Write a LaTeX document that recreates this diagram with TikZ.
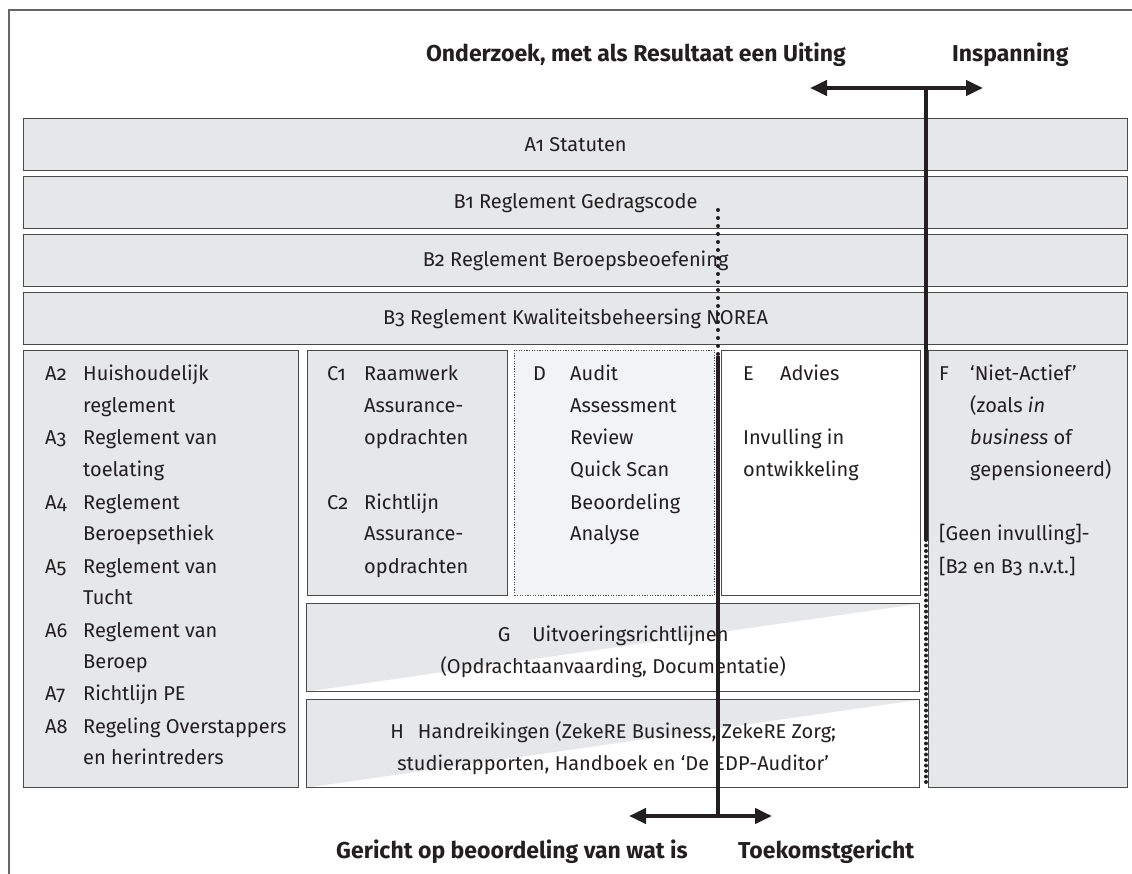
\documentclass[tikz,border=0pt]{standalone}
\usepackage{fontspec}
\setmainfont{Fira Sans}[Numbers=OldStyle]
\usepackage{array}
\usetikzlibrary{arrows.meta}
\definecolor{boxgray}{HTML}{E6E7E8}
\definecolor{palegray}{HTML}{F2F3F4}
\definecolor{edge}{HTML}{4A4A4A}
\definecolor{ink}{HTML}{231F20}
\newcommand{\boxfont}{\fontsize{20}{32}\selectfont}
\newcommand{\headfont}{\fontsize{23}{27}\selectfont\bfseries}
\newcommand{\fullrow}[1]{\multicolumn{2}{@{}l@{}}{#1}}

\begin{document}
\begin{tikzpicture}[x=1pt,y=-1pt,>={Triangle[length=17pt,width=15pt]},
    band/.style={draw=edge,line width=1.3pt,fill=boxgray,anchor=north west,inner sep=0pt,
      minimum width=1104pt,minimum height=52pt,font=\boxfont,text=ink},
    cell/.style={draw=edge,line width=1.3pt,fill=boxgray,anchor=north west,inner sep=0pt},
    halfcell/.style={cell,fill=white,path picture={\fill[boxgray] (path picture bounding box.north west)
      -- (path picture bounding box.north east) -- (path picture bounding box.south west) -- cycle;}},
    entry/.style={anchor=base west,inner sep=0pt,font=\boxfont,text=ink},
    head/.style={inner sep=0pt,font=\headfont,text=ink},
    thick line/.style={draw=ink,line width=4pt},
    dots/.style={draw=ink,line width=4pt,line cap=round,dash pattern=on 0pt off #1},
    frame/.style={draw=black!60,line width=1.5pt}]
    \useasboundingbox (0,0) rectangle (1132,874);
    \draw [frame] (1132,10) -- (9,10) -- (9,874);
    \node [band] (a1) at (23,118) {A1 Statuten};
    \node [band] (b1) at (23,176) {B1 Reglement Gedragscode};
    \node [band] (b2) at (23,234) {B2 Reglement Beroepsbeoefening};
    \node [band] (b3) at (23,292) {B3 Reglement Kwaliteitsbeheersing NOREA};
    \node [cell,minimum width=275pt,minimum height=437pt] (abox) at (23,350) {};
    \node [cell,minimum width=200pt,minimum height=245pt] (cbox) at (307,350) {};
    \node [cell,fill=palegray,line width=0.9pt,dash pattern=on 1.2pt off 1.4pt,minimum width=200pt,minimum height=245pt] (dbox) at (514,350) {};
    \node [cell,fill=white,minimum width=199pt,minimum height=245pt] (ebox) at (721,350) {};
    \node [cell,minimum width=199pt,minimum height=437pt] (fbox) at (928,350) {};
    \node [halfcell,minimum width=613pt,minimum height=88pt] (gbox) at (306,603) {};
    \node [halfcell,minimum width=613pt,minimum height=88pt] (hbox) at (306,699) {};
    \node [entry] (atext) at (45,381) {\begin{tabular}[t]{@{}p{38pt}@{}l@{}}
      A2 & Huishoudelijk\\ & reglement\\
      A3 & Reglement van\\ & toelating\\
      A4 & Reglement\\ & Beroepsethiek\\
      A5 & Reglement van\\ & Tucht\\
      A6 & Reglement van\\ & Beroep\\
      A7 & Richtlijn PE\\
      A8 & Regeling Overstappers\\ & en herintreders
    \end{tabular}};
    \node [entry] (ctext) at (327,381) {\begin{tabular}[t]{@{}p{37pt}@{}l@{}}
      C1 & Raamwerk\\ & Assurance-\\ & opdrachten\\ & \\
      C2 & Richtlijn\\ & Assurance-\\ & opdrachten
    \end{tabular}};
    \node [entry] (dtext) at (533,381) {\begin{tabular}[t]{@{}p{37pt}@{}l@{}}
      D & Audit\\ & Assessment\\ & Review\\ & Quick Scan\\ & Beoordeling\\ & Analyse
    \end{tabular}};
    \node [entry] (etext) at (743,381) {\begin{tabular}[t]{@{}p{37pt}@{}l@{}}
      E & Advies\\ & \\ \fullrow{Invulling in}\\ \fullrow{ontwikkeling}
    \end{tabular}};
    \node [entry] (ftext) at (939,381) {\begin{tabular}[t]{@{}p{31pt}@{}l@{}}
      F & ‘Niet-Actief’\\ & (zoals \textit{in}\\ & \textit{business} of\\ & gepensioneerd)\\ & \\
      \fullrow{[Geen invulling]-}\\ \fullrow{[B2 en B3 n.v.t.]}
    \end{tabular}};
    \node [entry,anchor=center,align=center] (gtext) at ([yshift=-4pt]gbox.center)
      {G\hspace{22pt}Uitvoeringsrichtlijnen\\(Opdrachtaanvaarding, Documentatie)};
    \node [entry,anchor=center,align=center] (htext) at ([yshift=-5pt]hbox.center)
      {H\hspace{14pt}Handreikingen (ZekeRE Business, ZekeRE Zorg;\\studierapporten, Handboek en ‘De EDP-Auditor’};
    \node [head,anchor=east] (onderzoek) at (846,55) {Onderzoek, met als Resultaat een Uiting};
    \node [head,anchor=west] (inspanning) at (952,55) {Inspanning};
    \node [head,anchor=east] (gericht) at (688,852) {Gericht op beoordeling van wat is};
    \node [head,anchor=west] (toekomst) at (738,852) {Toekomstgericht};
    \coordinate (topL) at (810,88);
    \coordinate (topR) at (983,88);
    \coordinate (topS) at (926,88);
    \coordinate (topM) at (926,540);
    \coordinate (topE) at (926,787);
    \coordinate (botL) at (629,816);
    \coordinate (botR) at (772,816);
    \coordinate (botS) at (718,210);
    \coordinate (botM) at (718,356);
    \coordinate (botE) at (718,816);
    \draw [thick line,<->] (topL) -- (topR);
    \draw [thick line] (topS) -- (topM);
    \draw [dots=5.5pt] (topM) -- (topE);
    \draw [dots=8pt] (botS) -- (botM);
    \draw [thick line] (botM) -- (botE);
    \draw [thick line,<->] (botL) -- (botR);
\end{tikzpicture}
\end{document}
